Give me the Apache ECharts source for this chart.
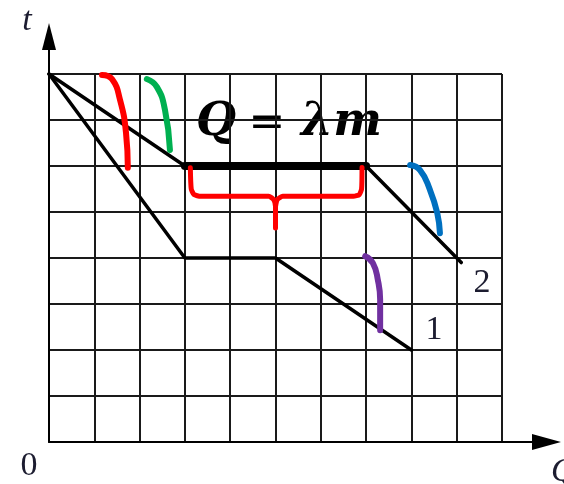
<!DOCTYPE html>
<html>
<head>
<meta charset="utf-8">
<script src="https://cdn.jsdelivr.net/npm/echarts@6/dist/echarts.min.js"></script>
<style>
html, body { margin: 0; padding: 0; background: #fff; }
#chart { width: 564px; height: 484px; }
</style>
</head>
<body>
<div id="chart"></div>
<script>
// grid is 10 cells across (Q) and 8 cells up (t)
var gridCols = 10
var gridRows = 8

// curve 1 and curve 2: [Q, t]
var line1 = [[0, 8], [3, 4], [5, 4], [8, 2]]
var line2 = [[0, 8], [3, 6], [7, 6], [9.1, 3.9]]
var line2Plateau = [[3, 6], [7, 6]]

// hand drawn marks in grid units
var arcRed = [[1.17, 7.98], [1.39, 7.89], [1.57, 7.43], [1.7, 6.72], [1.74, 5.96]]
var arcGreen = [[2.16, 7.89], [2.38, 7.72], [2.56, 7.22], [2.67, 6.35]]
var braceLeft = [[3.12, 5.96], [3.14, 5.5], [3.2, 5.38], [3.35, 5.34], [4.85, 5.34], [4.96, 5.27], [5.0, 5.12], [5.0, 4.65]]
var braceRight = [[5.0, 5.12], [5.04, 5.27], [5.16, 5.34], [6.72, 5.34], [6.85, 5.38], [6.9, 5.5], [6.91, 5.97]]
var arcBlue = [[7.97, 6.02], [8.19, 5.91], [8.41, 5.48], [8.57, 4.98], [8.63, 4.54]]
var arcPurple = [[6.98, 4.04], [7.15, 3.89], [7.26, 3.52], [7.31, 3.09], [7.31, 2.43]]

var chart = echarts.init(document.getElementById('chart'))

function stroke(data, color, width, smooth) {
  return {
    type: 'line',
    xAxisIndex: 0,
    yAxisIndex: 0,
    data: data,
    symbol: 'none',
    smooth: smooth,
    clip: false,
    silent: true,
    lineStyle: { color: color, width: width, cap: 'round', join: 'round' }
  }
}

var labelFont = '34px "Liberation Serif", serif'
var mathFont = 'italic bold 46px "DejaVu Serif", serif'

var option = {
  animation: false,
  backgroundColor: '#fff',
  grid: [
    { left: 49, top: 74, width: 453, height: 368 },
    { left: 49, top: 36.5, width: 497.5, height: 405.5 }
  ],
  xAxis: [
    {
      gridIndex: 0, type: 'value', min: 0, max: gridCols, interval: 1,
      axisLine: { show: false }, axisTick: { show: false }, axisLabel: { show: false },
      splitLine: { show: true, lineStyle: { color: '#1a1a1a', width: 2 } }
    },
    {
      gridIndex: 1, type: 'value', min: 0, max: 1,
      axisLine: { show: true, symbol: ['none', 'triangle'], symbolSize: [16, 29], lineStyle: { color: '#000', width: 2 } },
      axisTick: { show: false }, axisLabel: { show: false }, splitLine: { show: false }
    }
  ],
  yAxis: [
    {
      gridIndex: 0, type: 'value', min: 0, max: gridRows, interval: 1,
      axisLine: { show: false }, axisTick: { show: false }, axisLabel: { show: false },
      splitLine: { show: true, lineStyle: { color: '#1a1a1a', width: 2 } }
    },
    {
      gridIndex: 1, type: 'value', min: 0, max: 1,
      axisLine: { show: true, symbol: ['none', 'triangle'], symbolSize: [14, 27], lineStyle: { color: '#000', width: 2 } },
      axisTick: { show: false }, axisLabel: { show: false }, splitLine: { show: false }
    }
  ],
  series: [
    stroke(line1, '#000', 3.5, false),
    stroke(line2, '#000', 3.5, false),
    stroke(line2Plateau, '#000', 8, false),
    stroke(arcRed, '#ff0000', 6, true),
    stroke(arcGreen, '#00b050', 6, true),
    stroke(braceLeft, '#ff0000', 5, 0.2),
    stroke(braceRight, '#ff0000', 5, 0.2),
    stroke(arcBlue, '#0070c0', 6, true),
    stroke(arcPurple, '#7030a0', 6, true)
  ],
  graphic: [
    { type: 'text', x: 27, y: 21, style: { text: 't', font: 'italic ' + labelFont, fill: '#1c1c30', align: 'center', verticalAlign: 'middle' } },
    { type: 'text', x: 29, y: 466, style: { text: '0', font: labelFont, fill: '#1c1c30', align: 'center', verticalAlign: 'middle' } },
    { type: 'text', x: 551, y: 472, style: { text: 'Q', font: 'italic ' + labelFont, fill: '#1c1c30', align: 'left', verticalAlign: 'middle' } },
    { type: 'text', x: 434, y: 330, style: { text: '1', font: labelFont, fill: '#1c1c30', align: 'center', verticalAlign: 'middle' } },
    { type: 'text', x: 482, y: 283, style: { text: '2', font: labelFont, fill: '#1c1c30', align: 'center', verticalAlign: 'middle' } },
    { type: 'text', x: 196, y: 123, style: { text: 'Q', font: mathFont, fill: '#000', align: 'left', verticalAlign: 'middle' } },
    { type: 'text', x: 267, y: 125, style: { text: '=', font: '44px "DejaVu Serif", serif', fill: '#000', align: 'center', verticalAlign: 'middle' } },
    { type: 'text', x: 301, y: 123, style: { text: 'λm', font: mathFont, fill: '#000', align: 'left', verticalAlign: 'middle' } }
  ]
}

chart.setOption(option)
</script>
</body>
</html>
